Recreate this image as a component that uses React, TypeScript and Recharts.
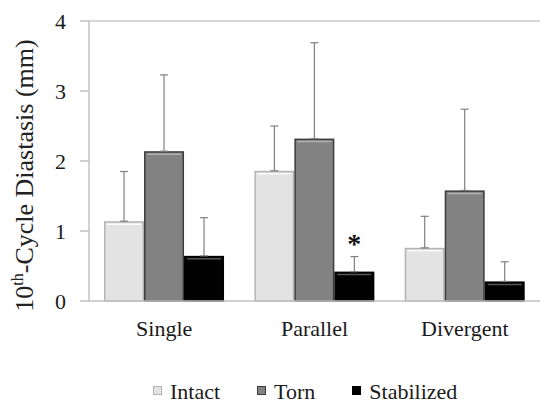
import { Bar, BarChart, ErrorBar, LabelList, ReferenceLine, XAxis, YAxis } from "recharts";

const categories = ["Single", "Parallel", "Divergent"];
const intact = [1.14, 1.86, 0.76];
const intactSD = [0.71, 0.64, 0.45];
const torn = [2.14, 2.32, 1.58];
const tornSD = [1.09, 1.37, 1.16];
const stabilized = [0.645, 0.42, 0.28];
const stabilizedSD = [0.545, 0.215, 0.28];
const significance = ["", "*", ""];
const yTicks = [0, 1, 2, 3, 4];

const FONT = "Liberation Serif, Times New Roman, Tinos, DejaVu Serif, serif";

// fill, outline, top highlight
const SERIES = [
  { key: "intact", name: "Intact", fill: "#e3e3e3", stroke: "#b4b4b4", hi: "#fafafa" },
  { key: "torn", name: "Torn", fill: "#828282", stroke: "#3c3c3c", hi: "#b0b0b0" },
  { key: "stabilized", name: "Stabilized", fill: "#020202", stroke: "#000000", hi: "#555555" },
];

const data = categories.map((c, i) => ({
  category: c,
  intact: intact[i],
  intactErr: [0, intactSD[i]],
  torn: torn[i],
  tornErr: [0, tornSD[i]],
  stabilized: stabilized[i],
  stabilizedErr: [0, stabilizedSD[i]],
  sig: significance[i],
}));

function BevelBar(props: any) {
  const { x, y, width, height, fill, stroke, hi } = props;
  if (!height || height <= 0) return null;
  return (
    <g>
      <rect x={x + 0.75} y={y + 0.75} width={width - 1.5} height={height - 0.75} fill={fill} stroke={stroke} strokeWidth={1.5} />
      <line x1={x + 3} x2={x + width - 3} y1={y + 3} y2={y + 3} stroke={hi} strokeWidth={1.5} />
    </g>
  );
}

function Star(props: any) {
  const { x, y, width, height, value, index } = props;
  if (!value) return null;
  const perUnit = height / stabilized[index];
  const errTop = y - stabilizedSD[index] * perUnit;
  return (
    <text x={x + width / 2} y={errTop - 4} textAnchor="middle" fontFamily={FONT} fontSize={28} fontWeight={700} fill="#111">
      {value}
    </text>
  );
}

function YLabel() {
  const cx = 33;
  const cy = 175.5;
  return (
    <text x={cx} y={cy} transform={`rotate(-90 ${cx} ${cy})`} textAnchor="middle" fontFamily={FONT} fontSize={26} fill="#222">
      10
      <tspan dy={-10} fontSize={16}>th</tspan>
      <tspan dy={10} fontSize={26}>-Cycle Diastasis (mm)</tspan>
    </text>
  );
}

export default function App() {
  return (
    <div style={{ position: "absolute", left: 0, top: 0, width: 540, height: 403, background: "#fff", fontFamily: FONT }}>
      <BarChart width={540} height={403} data={data} margin={{ top: 21, right: 0, left: 0, bottom: 72 }} barCategoryGap="10%" barGap={0}>
        <ReferenceLine y={4} stroke="#c8c8c8" strokeWidth={1.5} />
        <XAxis
          dataKey="category"
          tickLine={false}
          tickSize={0}
          tickMargin={19}
          axisLine={{ stroke: "#c2c2c2", strokeWidth: 1.5 }}
          tick={{ fontFamily: FONT, fontSize: 22, fill: "#1a1a1a" }}
        />
        <YAxis
          domain={[0, 4]}
          ticks={yTicks}
          width={89}
          tickSize={9}
          tickMargin={14}
          axisLine={{ stroke: "#c2c2c2", strokeWidth: 1.5 }}
          tickLine={{ stroke: "#c2c2c2", strokeWidth: 1.5 }}
          tick={{ fontFamily: FONT, fontSize: 22, fill: "#1a1a1a" }}
          label={<YLabel />}
        />
        {SERIES.map((s) => (
          <Bar
            key={s.key}
            dataKey={s.key}
            name={s.name}
            fill={s.fill}
            isAnimationActive={false}
            shape={(p: any) => <BevelBar {...p} stroke={s.stroke} hi={s.hi} />}
          >
            <ErrorBar dataKey={`${s.key}Err`} direction="y" width={4} stroke="#808080" strokeWidth={1.2} />
            {s.key === "stabilized" && <LabelList dataKey="sig" content={<Star />} />}
          </Bar>
        ))}
      </BarChart>
      <div
        style={{
          position: "absolute",
          left: 153,
          top: 379,
          display: "flex",
          alignItems: "center",
          fontSize: 22,
          lineHeight: "26px",
          color: "#1a1a1a",
          whiteSpace: "nowrap",
        }}
      >
        {SERIES.map((s) => (
          <div key={s.key} style={{ display: "flex", alignItems: "center", marginRight: 37 }}>
            <span
              style={{
                display: "inline-block",
                width: 7,
                height: 7,
                background: s.fill,
                border: `1px solid ${s.stroke}`,
                marginRight: 8,
                transform: "translateY(-2px)",
              }}
            />
            <span>{s.name}</span>
          </div>
        ))}
      </div>
    </div>
  );
}
